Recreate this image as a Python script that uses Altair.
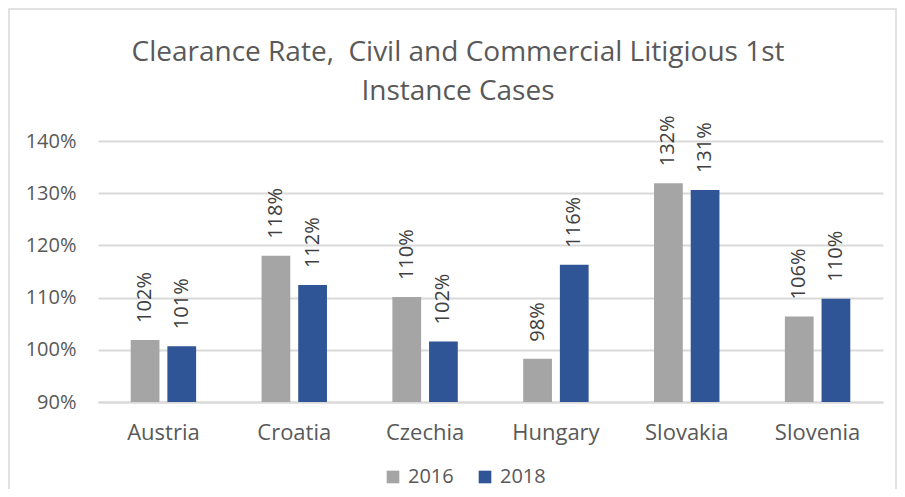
import altair as alt
import pandas as pd

countries = ["Austria", "Croatia", "Czechia", "Hungary", "Slovakia", "Slovenia"]
years = ["2016", "2018"]
rate_2016 = [101.9, 118.0, 110.1, 98.3, 131.9, 106.4]
rate_2018 = [100.7, 112.4, 101.6, 116.3, 130.6, 109.8]
y_ticks = [90, 100, 110, 120, 130, 140]
colors = ["#A5A5A5", "#2F5597"]
title_lines = ["Clearance Rate,\u00a0 Civil and Commercial Litigious 1st", "Instance Cases"]

rows = []
for c, a, b in zip(countries, rate_2016, rate_2018):
    rows.append({"country": c, "year": years[0], "rate": a})
    rows.append({"country": c, "year": years[1], "rate": b})
df = pd.DataFrame(rows)
df["label"] = df["rate"].round().astype(int).astype(str) + "%"

FONT = "Open Sans"
TXT = "#595959"

x_enc = alt.X("country:N", sort=countries, title=None,
              scale=alt.Scale(paddingInner=0.5, paddingOuter=0.25),
              axis=alt.Axis(labelAngle=0))
xoff = alt.XOffset("year:N", sort=years, scale=alt.Scale(paddingInner=0.216, paddingOuter=0))
y_enc = alt.Y("rate:Q", title=None,
              scale=alt.Scale(domain=[90, 140], zero=False, nice=False),
              axis=alt.Axis(values=y_ticks, labelExpr="datum.value + '%'"))

bars = alt.Chart(df).mark_bar().encode(
    x=x_enc, xOffset=xoff, y=y_enc, y2=alt.Y2(datum=90),
    color=alt.Color("year:N", sort=years, title=None,
                    scale=alt.Scale(domain=years, range=colors),
                    legend=alt.Legend(orient="none", legendX=285, legendY=326, direction="horizontal",
                                      symbolType="square", symbolSize=160, symbolStrokeWidth=0,
                                      labelFontSize=20, labelFont=FONT, labelColor=TXT,
                                      columnPadding=21, labelOffset=5)),
)

labels = alt.Chart(df).mark_text(angle=270, align="left", baseline="middle", dx=17,
                                 fontSize=20, font=FONT, color="#404040").encode(
    x=alt.X("country:N", sort=countries, title=None),
    xOffset=alt.XOffset("year:N", sort=years),
    y="rate:Q",
    text="label:N",
)

title_df = pd.DataFrame({"t": [title_lines]})
title = alt.Chart(title_df).mark_text(align="center", baseline="alphabetic", lineHeight=39,
                                      fontSize=28, font=FONT, color=TXT).encode(
    x=alt.value(360), y=alt.value(-80), text="t"
)

frame = alt.Chart(title_df).mark_rect(fill=None, stroke="#D9D9D9", strokeWidth=1.5).encode(
    x=alt.value(-89), x2=alt.value(798), y=alt.value(-132), y2=alt.value(400)
)

chart = alt.layer(frame, title, bars, labels).properties(
    width=785, height=261,
    padding={"left": 90, "top": 133, "right": 14, "bottom": 87},
    autosize=alt.AutoSizeParams(type="none"),
    background="white",
).configure_view(stroke=None).configure_axisX(
    labelFontSize=22, labelColor=TXT, labelFont=FONT, ticks=False, domain=True,
    domainColor="#D9D9D9", domainWidth=2, labelPadding=20, grid=False,
).configure_axisY(
    labelFontSize=20, labelColor=TXT, labelFont=FONT, ticks=False, domain=False,
    gridColor="#D9D9D9", gridWidth=2, labelPadding=22,
)

chart.save("out.html", embed_options={"renderer": "svg", "actions": False})
